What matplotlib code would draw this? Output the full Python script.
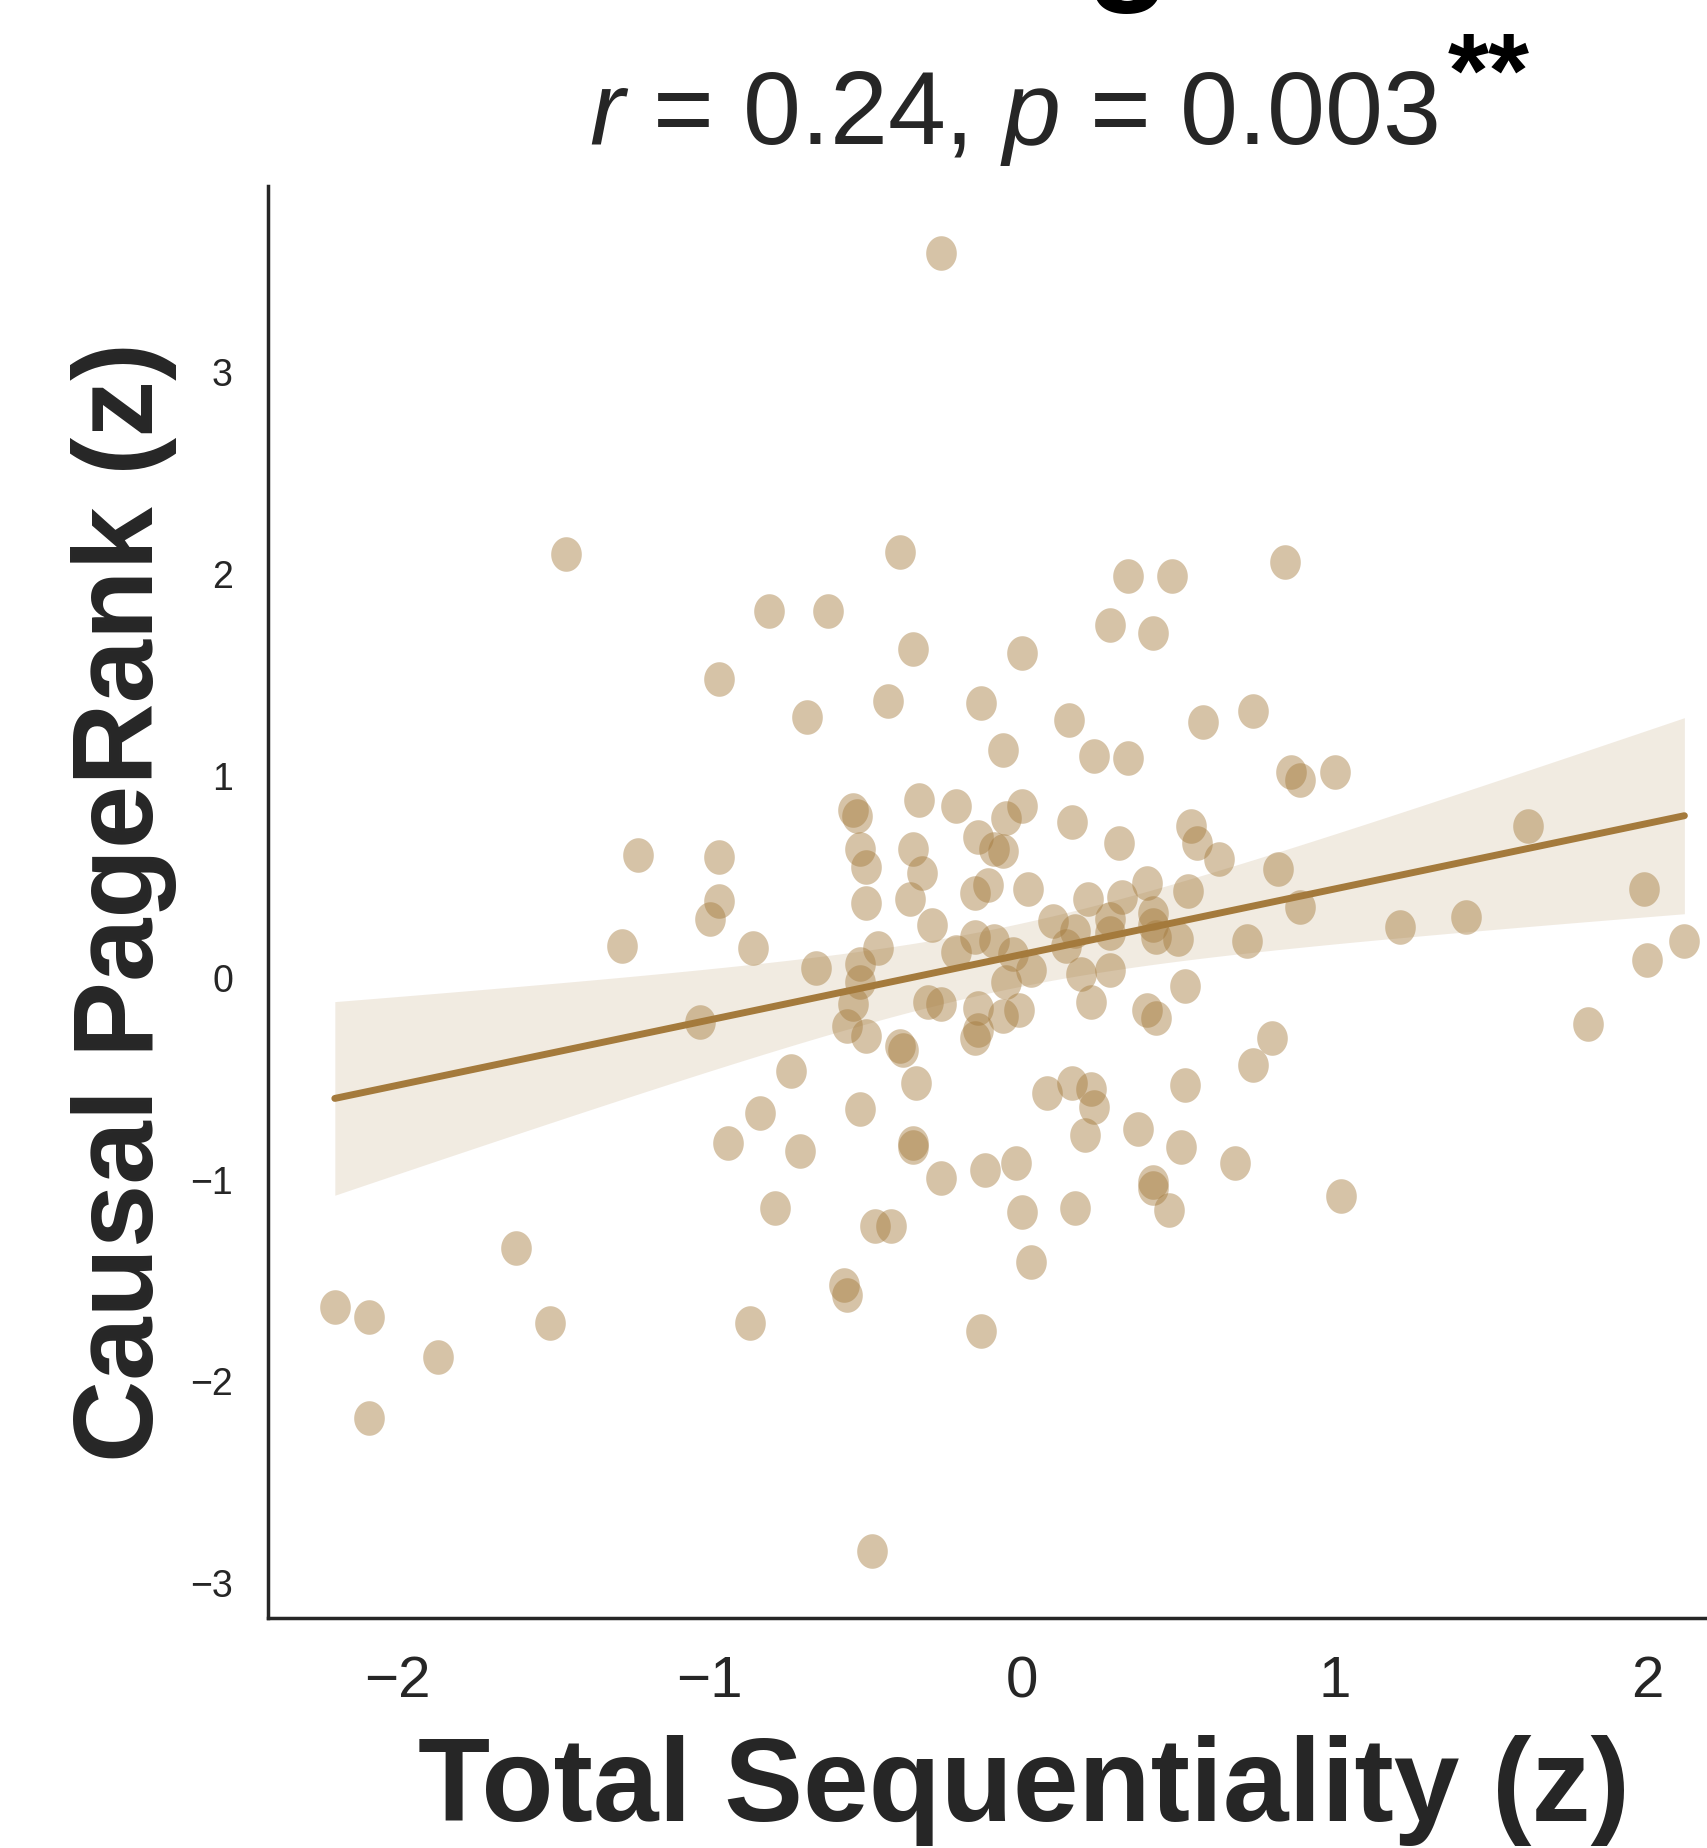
import numpy as np
import matplotlib
matplotlib.use("Agg")
import matplotlib.pyplot as plt
from matplotlib.path import Path

# Values (z-scores)
total_seq = [
    -0.26, -1.46, -0.39, 0.34, 0.48, 0.84, -0.81, -0.62, 0.28, 0.42,
    -0.35, 0.00, -0.97, -0.43, -0.13, -0.69, 0.15, 0.58, 0.74, -0.06,
    0.23, 0.34, 0.86, 0.89, 1.00, -0.54, -0.53, -0.33, -0.21, 0.00,
    -0.05, 0.16, 0.54, 0.56, 1.62, -1.23, -0.97, -0.52, -0.50, -0.35,
    -0.32, -0.14, -0.09, -0.06, 0.31, 0.63, 0.82, 1.99, -0.97, -1.00,
    -0.50, -0.36, -0.15, -0.11, 0.02, 0.21, 0.32, 0.40, 0.53, -0.29,
    0.10, 0.28, 0.42, 0.42, 0.43, 0.50, 0.89, 1.21, 1.42, -1.28,
    -0.86, -0.46, -0.21, -0.15, -0.09, -0.03, 0.17, 0.14, 0.28, 0.72,
    2.12, -0.66, 0.03, 0.19, 0.28, -0.52, -0.52, -0.05, 2.00, -0.54,
    -0.30, -0.26, -0.14, -0.01, 0.22, 0.52, -0.06, -1.03, -0.56, -0.50,
    -0.14, -0.15, 0.40, 0.43, 1.81, -0.39, -0.38, -0.74, -0.34, 0.74,
    0.80, 0.16, 0.22, 0.23, 0.08, 0.52, -0.84, -0.52, -0.94, -0.71,
    -0.35, -0.35, 0.20, 0.37, 0.51, -0.26, -0.12, -0.02, 0.68, 0.42,
    0.42, 1.02, -0.79, 0.17, 0.47, 0.00, -0.47, -0.42, -1.62, 0.03,
    -0.57, -0.56, -2.20, -2.09, -1.51, -0.87, -0.13, -1.87, -2.09, -0.48,
]
causal_pagerank = [
    3.59, 2.10, 2.11, 1.99, 1.99, 2.06, 1.82, 1.82, 1.75, 1.71,
    1.63, 1.61, 1.48, 1.37, 1.36, 1.29, 1.28, 1.27, 1.32, 1.13,
    1.10, 1.09, 1.02, 0.98, 1.02, 0.83, 0.80, 0.88, 0.85, 0.85,
    0.79, 0.77, 0.75, 0.67, 0.75, 0.61, 0.60, 0.64, 0.55, 0.64,
    0.52, 0.70, 0.64, 0.63, 0.67, 0.59, 0.54, 0.44, 0.38, 0.29,
    0.37, 0.39, 0.42, 0.46, 0.44, 0.39, 0.40, 0.47, 0.43, 0.26,
    0.28, 0.29, 0.32, 0.26, 0.20, 0.19, 0.35, 0.25, 0.30, 0.16,
    0.15, 0.15, 0.13, 0.20, 0.18, 0.12, 0.23, 0.16, 0.22, 0.18,
    0.18, 0.05, 0.04, 0.02, 0.04, 0.07, -0.02, -0.02, 0.09, -0.13,
    -0.12, -0.13, -0.15, -0.16, -0.12, -0.04, -0.19, -0.22, -0.24, -0.29,
    -0.26, -0.30, -0.16, -0.20, -0.23, -0.34, -0.36, -0.46, -0.52, -0.43,
    -0.30, -0.52, -0.55, -0.64, -0.57, -0.53, -0.67, -0.65, -0.82, -0.86,
    -0.82, -0.84, -0.78, -0.75, -0.84, -0.99, -0.95, -0.92, -0.92, -1.01,
    -1.04, -1.08, -1.14, -1.14, -1.15, -1.16, -1.23, -1.23, -1.34, -1.41,
    -1.52, -1.57, -1.63, -1.68, -1.71, -1.71, -1.75, -1.88, -2.18, -2.84,
]
x_ticks = [-2, -1, 0, 1, 2]
y_ticks = [-3, -2, -1, 0, 1, 2, 3]
stats_text = "$r$ = 0.24, $p$ = 0.003"

plt.rcParams["font.family"] = ["Liberation Sans", "DejaVu Sans"]
plt.rcParams["mathtext.fontset"] = "custom"
plt.rcParams["mathtext.rm"] = "Liberation Sans"
plt.rcParams["mathtext.it"] = "Liberation Sans:italic"

color = "#A47A3C"
dark = "#262626"

x = np.array(total_seq)
y = np.array(causal_pagerank)

# linear fit + 95% confidence band of the mean
n = len(x)
slope, intercept = np.polyfit(x, y, 1)
xs = np.linspace(x.min(), x.max(), 200)
ys = intercept + slope * xs
resid = y - (intercept + slope * x)
s = np.sqrt(np.sum(resid ** 2) / (n - 2))
sxx = np.sum((x - x.mean()) ** 2)
se = s * np.sqrt(1 / n + (xs - x.mean()) ** 2 / sxx)
lo = ys - 1.976 * se
hi = ys + 1.976 * se

# slightly tall ellipse marker, like the dots in the reference
t = np.linspace(0, 2 * np.pi, 60)
dot = Path(np.column_stack([0.885 * np.cos(t), np.sin(t)]))

fig = plt.figure(figsize=(17.07, 18.48), dpi=100)
ax = fig.add_axes([0.1568, 0.1247, 0.9178, 0.7748])

ax.fill_between(xs, lo, hi, color=color, alpha=0.15, linewidth=0)
ax.scatter(x, y, s=620, marker=dot, color=color, alpha=0.45, linewidths=0)
ax.plot(xs, ys, color=color, linewidth=5, solid_capstyle="round")

ax.set_xlim(-2.415, 2.6)
ax.set_ylim(-3.17, 3.925)
ax.set_xticks(x_ticks)
ax.set_yticks(y_ticks)
ax.tick_params(axis="x", length=0, pad=27, labelsize=42, labelcolor=dark)
ax.tick_params(axis="y", length=0, pad=25, labelsize=27, labelcolor=dark)

for side in ["top", "right"]:
    ax.spines[side].set_visible(False)
for side in ["left", "bottom"]:
    ax.spines[side].set_linewidth(2.5)
    ax.spines[side].set_color(dark)

# axis labels
fig.text(0.600, 0.0146, "Total Sequentiality (z)", fontsize=85,
         fontweight="bold", color=dark, ha="center", va="baseline")
fig.text(0.0726, 0.512, "Causal PageRank (z)", fontsize=82,
         fontweight="bold", color=dark, rotation=90, ha="center", va="center")

# stats line + significance stars
fig.text(0.345, 0.922, stats_text, fontsize=75, color=dark,
         ha="left", va="baseline")
fig.text(0.848, 0.9425, "**", fontsize=76, fontweight="bold", color="black",
         ha="left", va="baseline")

# bottom of the cut-off main title above
fig.text(0.636, 1.0087, "g", fontsize=100, fontweight="bold", color="black",
         ha="left", va="baseline")

fig.savefig("out.png", dpi=100)
